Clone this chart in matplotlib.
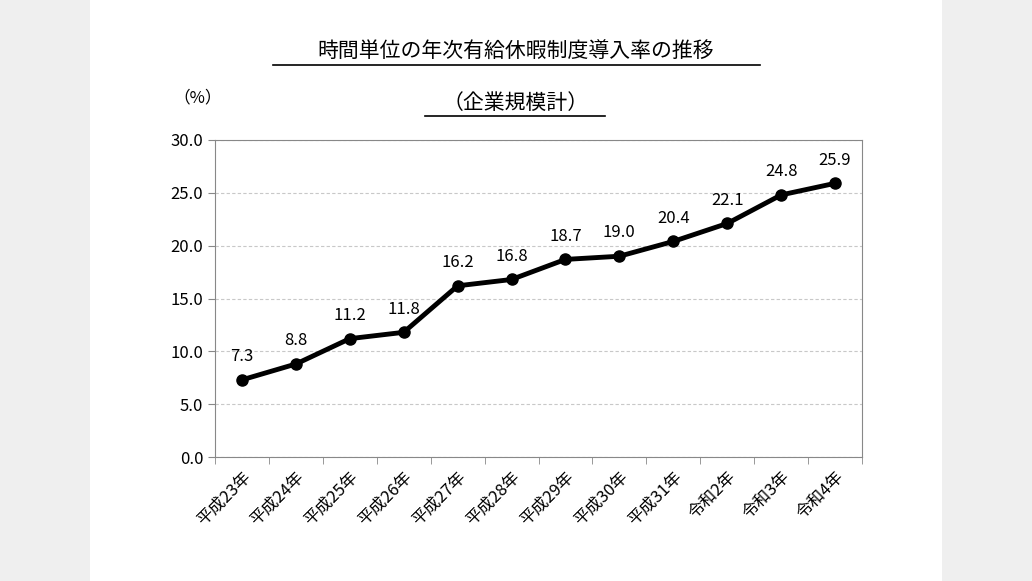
import matplotlib
matplotlib.use("Agg")
import matplotlib.pyplot as plt
from matplotlib.lines import Line2D
from matplotlib.patches import Rectangle

plt.rcParams['font.family'] = ['Noto Sans CJK JP', 'DejaVu Sans']

categories = ["平成23年","平成24年","平成25年","平成26年","平成27年","平成28年",
              "平成29年","平成30年","平成31年","令和2年","令和3年","令和4年"]
values = [7.3, 8.8, 11.2, 11.8, 16.2, 16.8, 18.7, 19.0, 20.4, 22.1, 24.8, 25.9]

W, H = 1032, 581
fig = plt.figure(figsize=(W/100, H/100), dpi=100, facecolor="#efefef")
fig.patches.append(Rectangle((90/W, 0), (942-90)/W, 1, transform=fig.transFigure,
                             facecolor="white", edgecolor="none", zorder=-10))

ax = fig.add_axes([215/W, 1-457/H, (862-215)/W, (457-140)/H])
ax.set_zorder(5)
x = list(range(len(categories)))
ax.plot(x, values, color="black", lw=3.5, marker="o", ms=8, zorder=3)
for xi, v in zip(x, values):
    ax.text(xi, v + 1.4, f"{v:.1f}", ha="center", va="bottom", fontsize=12)

ax.set_xlim(-0.5, len(categories) - 0.5)
ax.set_ylim(0, 30)
ax.set_yticks([0, 5, 10, 15, 20, 25, 30])
ax.set_yticklabels([f"{t:.1f}" for t in [0, 5, 10, 15, 20, 25, 30]], fontsize=12)
ax.yaxis.grid(True, linestyle=(0, (3, 2)), color="#c8c8c8", lw=0.8)
ax.set_axisbelow(True)
ax.set_xticks(x)
ax.set_xticklabels(categories, rotation=45, ha="right", rotation_mode="anchor", fontsize=12)
ax.tick_params(axis="x", length=0, pad=8)
ax.set_xticks([i + 0.5 for i in range(-1, len(categories))], minor=True)
ax.tick_params(axis="x", which="minor", length=5, color="#888888")
ax.tick_params(axis="y", length=5, color="#888888")
for s in ax.spines.values():
    s.set_color("#888888")

fig.text(516/W, 1-52/H, "時間単位の年次有給休暇制度導入率の推移", ha="center", va="center", fontsize=15)
fig.add_artist(Line2D([273/W, 760/W], [1-65/H, 1-65/H], color="black", lw=1.2))
fig.text(516/W, 1-103/H, "（企業規模計）", ha="center", va="center", fontsize=15)
fig.add_artist(Line2D([425/W, 605/W], [1-116/H, 1-116/H], color="black", lw=1.2))
fig.text(198/W, 1-98/H, "（%）", ha="center", va="center", fontsize=12)

fig.savefig("out.png", dpi=100, facecolor=fig.get_facecolor())
